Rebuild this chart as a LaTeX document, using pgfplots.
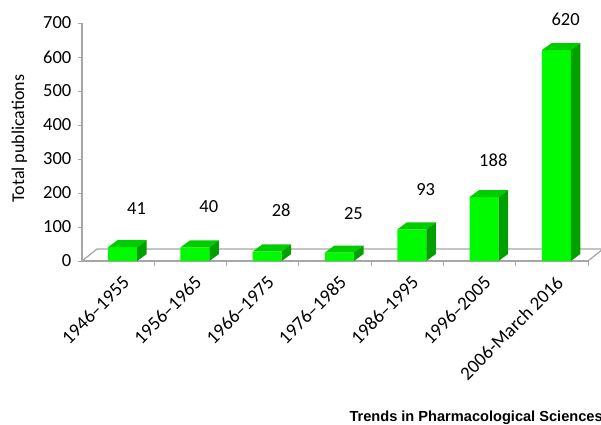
\documentclass[border=0pt]{standalone}
\usepackage{pgfplots}
\pgfplotsset{compat=1.18}
\usepackage{pgfplotstable}
\usepackage{fontspec}
\setmainfont{Carlito}
\newfontfamily\tpsfont{Liberation Sans}

\definecolor{barfront}{RGB}{0,250,0}
\definecolor{bartop}{RGB}{0,205,0}
\definecolor{barside}{RGB}{0,160,0}
\definecolor{axisgray}{RGB}{166,166,166}

% x = category index, v = publications, lift = label height above bar (pt)
\pgfplotstableread{
x v lift
0 41 39
1 40 41
2 28 41
3 25 39
4 93 40
5 188 37
6 620 31
}\pubs

% top and side face of a 3D bar, drawn at the top of the front face
% (238pt of axis for 700 units -> 0.34pt per unit)
\pgfdeclareplotmark{bar3d}{%
  \pgfmathsetmacro\h{\val*0.34}%
  \pgfsetfillcolor{bartop}%
  \pgfpathmoveto{\pgfpoint{-10pt}{0pt}}%
  \pgfpathlineto{\pgfpoint{19pt}{0pt}}%
  \pgfpathlineto{\pgfpoint{28.5pt}{7pt}}%
  \pgfpathlineto{\pgfpoint{-0.5pt}{7pt}}%
  \pgfpathclose
  \pgfusepath{fill}%
  \pgfsetfillcolor{barside}%
  \pgfpathmoveto{\pgfpoint{19pt}{0pt}}%
  \pgfpathlineto{\pgfpoint{28.5pt}{7pt}}%
  \pgfpathlineto{\pgfpoint{28.5pt}{7pt-\h pt}}%
  \pgfpathlineto{\pgfpoint{19pt}{-\h pt}}%
  \pgfpathclose
  \pgfusepath{fill}%
}

\begin{document}
\begin{tikzpicture}
\useasboundingbox (-82pt,-163pt) rectangle (519pt,261pt);
\begin{axis}[
  scale only axis, width=506pt, height=238pt,
  xmin=-0.5, xmax=6.5, ymin=0, ymax=700,
  axis lines*=left,
  axis line style={axisgray, line width=1.2pt},
  clip=false,
  /pgf/number format/assume math mode=true,
  ytick={0,100,...,700},
  xtick={0,...,6},
  xticklabels={1946--1955,1956--1965,1966--1975,1976--1985,1986--1995,1996--2005,2006-March 2016},
  minor xtick={0.5,1.5,...,6.5},
  tick align=outside,
  major tick length=4pt, minor tick length=5pt,
  every tick/.style={axisgray, line width=1pt},
  major x tick style={draw=none},
  tick label style={font=\fontsize{18.5}{20}\selectfont},
  yticklabel style={anchor=east, inner sep=0pt, xshift=-6.5pt},
  xticklabel style={inner sep=0pt, xshift=8pt, yshift=-14.5pt, rotate=45, anchor=east, font=\fontsize{19}{20}\selectfont},
  ylabel={Total publications},
  every axis y label/.style={at={(axis description cs:-0.1237,0.515)}, rotate=90, anchor=center, font=\fontsize{18}{20}\selectfont},
]
\draw[axisgray, line width=1.2pt] (axis cs:-0.5,0) -- ++(15pt,12pt) -- ++(506pt,0pt) -- ++(-15pt,-12pt);
\addplot[ybar, bar width=29pt, bar shift=4.5pt, fill=barfront, draw=none] table[x=x,y=v]{\pubs};
\addplot[only marks, mark=bar3d, point meta=y,
  visualization depends on={\thisrow{v}\as\val},
  visualization depends on={\thisrow{lift}\as\lift},
  nodes near coords,
  nodes near coords style={anchor=east, inner sep=0pt, xshift=28pt, yshift=\lift pt, black, font=\fontsize{18.5}{20}\selectfont},
] table[x=x,y=v]{\pubs};
\end{axis}
\node[anchor=base west, inner sep=0pt, font=\tpsfont\bfseries\fontsize{14.6}{16}\selectfont] at (267.3pt,-160pt) {Trends in Pharmacological Sciences};
\end{tikzpicture}
\end{document}
